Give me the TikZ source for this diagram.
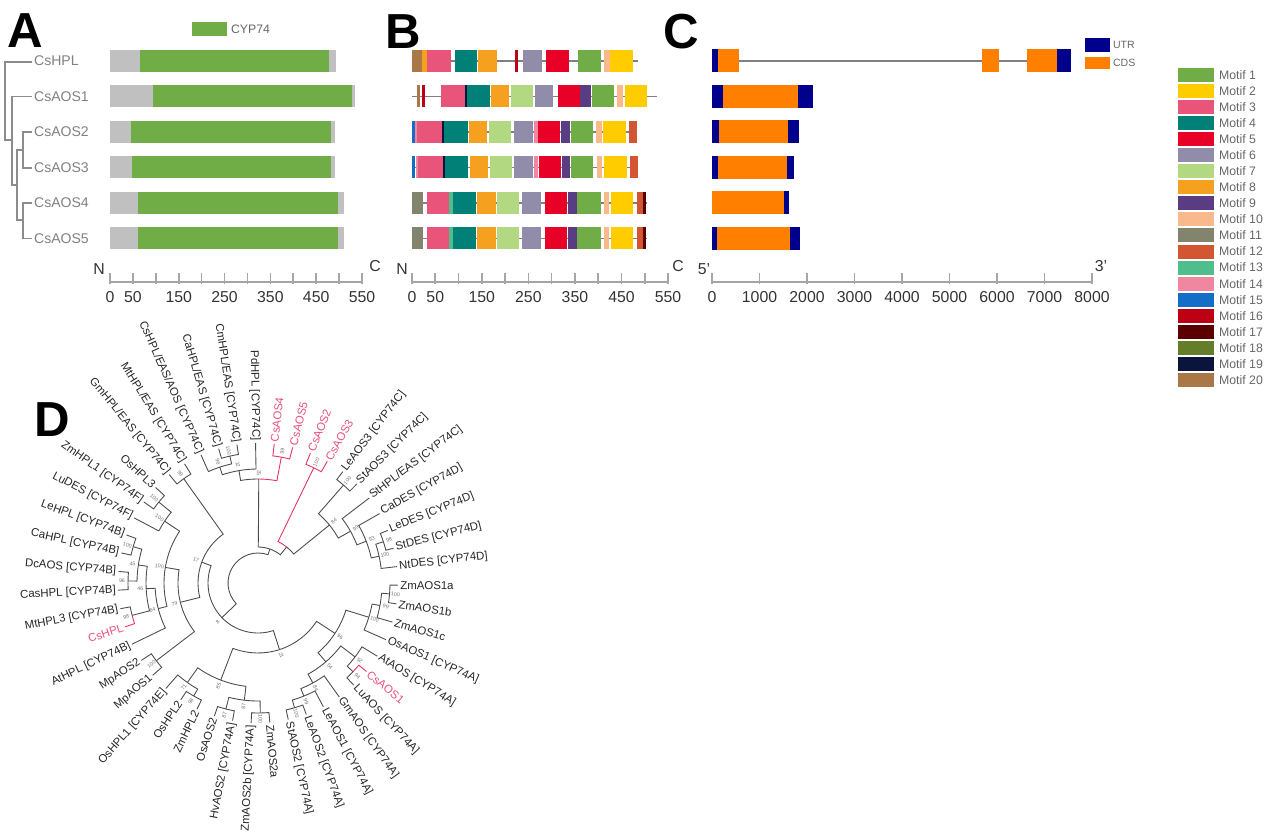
\documentclass[tikz,border=0pt]{standalone}
\usepackage{fontspec}
\setmainfont{Liberation Sans}
\definecolor{m1}{RGB}{112,173,71}
\definecolor{m2}{RGB}{255,204,0}
\definecolor{m3}{RGB}{232,84,122}
\definecolor{m4}{RGB}{0,128,118}
\definecolor{m5}{RGB}{232,0,38}
\definecolor{m6}{RGB}{145,140,170}
\definecolor{m7}{RGB}{178,216,130}
\definecolor{m8}{RGB}{246,160,32}
\definecolor{m9}{RGB}{90,60,130}
\definecolor{m10}{RGB}{250,185,140}
\definecolor{m11}{RGB}{130,132,110}
\definecolor{m12}{RGB}{210,86,50}
\definecolor{m13}{RGB}{80,190,140}
\definecolor{m14}{RGB}{240,135,160}
\definecolor{m15}{RGB}{20,110,200}
\definecolor{m16}{RGB}{190,0,20}
\definecolor{m17}{RGB}{90,0,0}
\definecolor{m18}{RGB}{100,125,40}
\definecolor{m19}{RGB}{10,20,60}
\definecolor{m20}{RGB}{170,120,70}
\definecolor{utr}{RGB}{0,0,140}
\definecolor{cds}{RGB}{255,128,0}
\definecolor{cyp}{RGB}{112,173,71}
\definecolor{pad}{RGB}{192,192,192}
\definecolor{csred}{RGB}{228,50,100}
\definecolor{axisgray}{RGB}{165,165,165}
\tikzset{
  panel/.style={font=\fontsize{28}{30}\selectfont\bfseries},
  seq/.style={font=\fontsize{8}{9}\selectfont, text=black!50, anchor=west, inner sep=1pt},
  num/.style={font=\fontsize{9}{10}\selectfont, text=black!80, inner sep=0pt},
  ax/.style={draw=axisgray, line width=0.9pt},
  bb/.style={draw=black!50, line width=0.6pt},
  br/.style={draw=black!70, line width=0.5pt},
  brp/.style={draw=csred, line width=0.5pt},
  leaf/.style={font=\fontsize{6.5}{7}\selectfont, inner sep=0pt},
  bs/.style={font=\fontsize{3}{3}\selectfont, text=black!55, inner sep=0pt},
  key/.style={font=\fontsize{7}{8}\selectfont, text=black!60, anchor=west, inner sep=1pt}
}
\begin{document}
\begin{tikzpicture}[x=0.02cm,y=-0.02cm]
\useasboundingbox (0,0) rectangle (1280,837);

% ---- panel A: domains
\node[panel] (pA) at (25,31) {A};
\fill[cyp] (192,22) rectangle (227,36);
\node[key] (kcyp) at (229,29) {CYP74};
\draw[black!45, line width=0.6pt] (32,62) -- (5,62) -- (5,140) -- (12,140);
\draw[black!45, line width=0.6pt] (32,96.5) -- (12,96.5) -- (12,185) -- (17,185);
\draw[black!45, line width=0.6pt] (23,150) -- (17,150) -- (17,220) -- (23,220);
\draw[black!45, line width=0.6pt] (32,132) -- (23,132) -- (23,168) -- (32,168);
\draw[black!45, line width=0.6pt] (32,203) -- (23,203) -- (23,238.5) -- (32,238.5);
\foreach \y/\t [count=\n] in {61/CsHPL, 96.5/CsAOS1, 132/CsAOS2, 167.5/CsAOS3, 203/CsAOS4, 238.5/CsAOS5}
  \node[seq] (sq\n) at (32,\y) {\t};
\foreach \y/\g/\e/\t in {61/140/329/336, 96.5/153/352/355, 132/131/331/335,
    167.5/132/331/335, 203/138/338/344, 238.5/138/338/344} {
  \fill[pad] (110,\y-11) rectangle (\t,\y+11);
  \fill[cyp] (\g,\y-11) rectangle (\e,\y+11);
}
\draw[ax] (110,282) -- (362,282);
\foreach \k in {0,...,11} \draw[ax] ({110+\k*252/11},284) -- ({110+\k*252/11},273);
\foreach \v in {0,50,150,250,350,450,550} \node[num] (na\v) at ({110+\v/550*252},297) {\v};
\node[num] (nN) at (99,269) {N};
\node[num] (nC) at (375,266) {C};

% ---- panel B: motifs
\node[panel] (pB) at (403,32) {B};
\foreach \y/\e in {61/638, 96.5/657, 132/637, 167.5/638, 203/647, 238.5/647}
  \draw[bb] (412,\y) -- (\e,\y);
\foreach \a/\b/\col in {412/422/m20, 422/427/m8, 427/451/m3, 455/477/m4, 478/497/m8, 515/518/m16,
    523/542/m6, 546/569/m5, 578/601/m1, 604/610/m10, 610/633/m2}
  \fill[\col] (\a,50) rectangle (\b,72);
\foreach \a/\b/\col in {417/420/m20, 422/425/m16, 441/465/m3, 465/467/m19, 467/490/m4, 491/509/m8,
    511/533/m7, 535/553/m6, 558/580/m5, 580/591/m9, 592/614/m1, 617/623/m10, 625/647/m2}
  \fill[\col] (\a,85.5) rectangle (\b,107.5);
\foreach \a/\b/\col in {412/415/m15, 415/417/m14, 417/442/m3, 442/444/m19, 444/468/m4, 469/487/m8,
    489/511/m7, 514/533/m6, 534/538/m14, 538/560/m5, 561/570/m9, 571/593/m1, 596/602/m10,
    603/626/m2, 629/637/m12}
  \fill[\col] (\a,121) rectangle (\b,143);
\foreach \a/\b/\col in {412/415/m15, 416/418/m14, 418/443/m3, 443/445/m19, 445/468/m4, 470/488/m8,
    490/512/m7, 514/533/m6, 534/538/m14, 539/561/m5, 562/570/m9, 571/593/m1, 597/602/m10,
    604/627/m2, 630/638/m12}
  \fill[\col] (\a,156.5) rectangle (\b,178.5);
\foreach \y in {203,238.5}
  \foreach \a/\b/\col in {412/423/m11, 427/449/m3, 449/453/m13, 453/476/m4, 477/496/m8, 497/519/m7,
      522/541/m6, 545/567/m5, 568/577/m9, 577/601/m1, 604/609/m10, 611/633/m2, 637/643/m12, 643/646/m17}
    \fill[\col] (\a,\y-11) rectangle (\b,\y+11);
\draw[ax] (412,282) -- (668,282);
\foreach \k in {0,...,11} \draw[ax] ({412+\k*256/11},284) -- ({412+\k*256/11},273);
\foreach \v in {0,50,150,250,350,450,550} \node[num] (nb\v) at ({412+\v/550*256},297) {\v};
\node[num] (bN) at (402,269) {N};
\node[num] (bC) at (678,266) {C};

% ---- panel C: gene structure
\node[panel] (pC) at (681,32) {C};
\draw[bb] (712,61) -- (1071,61);
\foreach \a/\b/\col in {712/718/utr, 718/739/cds, 982/999/cds, 1027/1057/cds, 1057/1071/utr}
  \fill[\col] (\a,49.5) rectangle (\b,72.5);
\foreach \a/\b/\col in {712/723/utr, 723/798/cds, 798/813/utr}
  \fill[\col] (\a,85) rectangle (\b,108);
\foreach \a/\b/\col in {712/719/utr, 719/788/cds, 788/799/utr}
  \fill[\col] (\a,120.5) rectangle (\b,143.5);
\foreach \a/\b/\col in {712/718/utr, 718/787/cds, 787/794/utr}
  \fill[\col] (\a,156) rectangle (\b,179);
\foreach \a/\b/\col in {712/784/cds, 784/789/utr}
  \fill[\col] (\a,191.5) rectangle (\b,214.5);
\foreach \a/\b/\col in {712/717/utr, 717/790/cds, 790/800/utr}
  \fill[\col] (\a,227) rectangle (\b,250);
\fill[utr] (1085,38) rectangle (1110,52);
\node[key, font=\fontsize{6}{7}\selectfont] (kutr) at (1111,45) {UTR};
\fill[cds] (1085,57) rectangle (1110,69);
\node[key, font=\fontsize{6}{7}\selectfont] (kcds) at (1111,63) {CDS};
\draw[ax] (712,282) -- (1092,282);
\foreach \k in {0,...,8} {
  \draw[ax] ({712+\k*47.5},284) -- ({712+\k*47.5},273);
  \node[num] (nc\k) at ({712+\k*47.5},297) {\the\numexpr\k*1000\relax};
}
\node[num] (c5) at (704,269) {5'};
\node[num] (c3) at (1101,266) {3'};

% ---- motif legend
\foreach \k in {1,...,20} {
  \fill[m\k] (1178,{75+(\k-1)*16.05-7}) rectangle (1214,{75+(\k-1)*16.05+7});
  \node[key] (mk\k) at (1217,{75+(\k-1)*16.05}) {Motif \k};
}

% ---- panel D: circular tree
\node[panel] (pD) at (52,420) {D};
\begin{scope}[shift={(258,583)}, y=0.02cm]
  % node radius / node angle / child angle / child radius
  \foreach \r/\na/\ca/\cr in {
      130/102.49/98.66/140, 130/102.49/106.32/140, 122/108.24/102.49/130, 122/108.24/113.98/140,
      114/99.62/91/140, 114/99.62/108.24/122, 104/89.57/99.62/114,
      132/18.23/14.4/140, 132/18.23/22.06/140, 124/12.49/6.74/140, 124/12.49/18.23/132,
      116/21.1/12.49/124, 116/21.1/29.72/140, 106/29.24/21.1/116, 106/29.24/37.38/140,
      130/48.87/45.04/140, 130/48.87/52.7/140, 92/39.06/29.24/106, 92/39.06/48.87/130,
      46/51.6/39.06/92, 36/70.6/51.6/46, 36/70.6/89.57/104,
      128/125.47/121.64/140, 128/125.47/129.3/140, 128/140.79/136.96/140, 128/140.79/144.62/140,
      112/146.5/140.79/128, 112/146.5/152.28/140,
      130/163.77/159.94/140, 130/163.77/167.6/140, 130/179.09/175.26/140, 130/179.09/182.92/140,
      121/171.43/163.77/130, 121/171.43/179.09/130, 130/194.41/190.58/140,
      112/182.92/171.43/121, 112/182.92/194.41/130, 103/194.41/182.92/112, 103/194.41/205.9/140,
      94/170.46/146.5/112, 94/170.46/194.41/103, 128/217.39/213.56/140, 128/217.39/221.22/140,
      80/193.93/170.46/94, 80/193.93/217.39/128, 60/159.7/125.47/128, 60/159.7/193.93/80,
      130/240.37/236.54/140, 130/240.37/244.2/140, 122/234.63/228.88/140, 122/234.63/240.37/130,
      130/255.69/251.86/140, 130/255.69/259.52/140, 130/271.01/267.18/140, 130/271.01/274.84/140,
      118/263.35/255.69/130, 118/263.35/271.01/130, 104/248.99/234.63/122, 104/248.99/263.35/118,
      130/286.33/282.5/140, 130/286.33/290.16/140, 122/292.08/286.33/130, 122/292.08/297.82/140,
      114/298.78/292.08/122, 114/298.78/305.48/140, 130/316.97/313.14/140,
      122/322.72/316.97/130, 122/322.72/328.46/140, 104/310.75/298.78/114, 104/310.75/322.72/122,
      132/355.27/351.44/140, 132/355.27/359.1/140, 124/349.53/343.78/140, 124/349.53/355.27/132,
      116/342.83/336.12/140, 116/342.83/349.53/124, 92/326.79/310.75/104, 92/326.79/342.83/116,
      70/287.89/248.99/104, 70/287.89/326.79/92, 50/223.8/159.7/60, 50/223.8/287.89/70,
      30/147.2/70.6/36, 30/147.2/223.8/50}
    \draw[br] (\ca:\cr) -- (\ca:\r) arc[start angle=\ca, end angle=\na, radius=\r*0.02cm];
  \foreach \r/\na/\ca/\cr in {
      128/79.51/75.68/140, 128/79.51/83.34/140, 128/64.19/60.36/140, 128/64.19/68.02/140,
      104/89.57/79.51/128, 46/51.6/64.19/128, 130/194.41/198.24/140, 130/316.97/320.8/140}
    \draw[brp] (\ca:\cr) -- (\ca:\r) arc[start angle=\ca, end angle=\na, radius=\r*0.02cm];
  % bootstrap values
  \foreach \r/\na/\v [count=\n] in {
      128/79.51/99, 128/64.19/100, 130/102.49/100, 122/108.24/96, 114/99.62/12, 104/89.57/52,
      132/18.23/98, 124/12.49/100, 116/21.1/93, 106/29.24/99, 130/48.87/100, 92/39.06/84,
      128/125.47/99, 128/140.79/100, 112/146.5/100, 130/163.77/100, 130/179.09/96, 121/171.43/45,
      130/194.41/98, 112/182.92/46, 103/194.41/64, 94/170.46/100, 128/217.39/100, 80/193.93/79,
      60/159.7/17, 130/240.37/98, 122/234.63/71, 130/255.69/87, 130/271.01/100, 118/263.35/87,
      104/248.99/85, 130/286.33/100, 122/292.08/99, 114/298.78/84, 130/316.97/94, 122/322.72/52,
      104/310.75/54, 132/355.27/100, 124/349.53/99, 116/342.83/100, 92/326.79/96, 70/287.89/21,
      50/223.8/8} {
    \pgfmathsetmacro\rr{\r+6}
    \pgfmathsetmacro\rot{(\na>90 && \na<270) ? \na-180 : \na}
    \node[bs, rotate=\rot] (bs\n) at (\na:\rr) {\v};
  }
  % leaf labels, right half
  \foreach \i/\t/\col in {-11/{NtDES [CYP74D]}/black, -10/{StDES [CYP74D]}/black,
      -9/{LeDES [CYP74D]}/black, -8/{CaDES [CYP74D]}/black, -7/{StHPL/EAS [CYP74C]}/black,
      -6/{StAOS3 [CYP74C]}/black, -5/{LeAOS3 [CYP74C]}/black, -4/CsAOS3/csred, -3/CsAOS2/csred,
      -2/CsAOS5/csred, -1/CsAOS4/csred, 24/ZmAOS2a/black, 25/{StAOS2 [CYP74A]}/black,
      26/{LeAOS2 [CYP74A]}/black, 27/{LeAOS1 [CYP74A]}/black, 28/{GmAOS [CYP74A]}/black,
      29/{LuAOS [CYP74A]}/black, 30/CsAOS1/csred, 31/{AtAOS [CYP74A]}/black,
      32/{OsAOS1 [CYP74A]}/black, 33/ZmAOS1c/black, 34/ZmAOS1b/black, 35/ZmAOS1a/black} {
    \pgfmathsetmacro\a{91+7.66*\i}
    \node[leaf, text=\col!85, anchor=west, rotate=\a] (lf\i) at (\a:142) {\t};
  }
  % leaf labels, left half
  \foreach \i/\t/\col in {0/{PdHPL [CYP74C]}/black, 1/{CmHPL/EAS [CYP74C]}/black,
      2/{CaHPL/EAS [CYP74C]}/black, 3/{CsHPL/EAS/AOS [CYP74C]}/black, 4/{MtHPL/EAS [CYP74C]}/black,
      5/{GmHPL/EAS [CYP74C]}/black, 6/OsHPL3/black, 7/{ZmHPL1 [CYP74F]}/black,
      8/{LuDES [CYP74F]}/black, 9/{LeHPL [CYP74B]}/black, 10/{CaHPL [CYP74B]}/black,
      11/{DcAOS [CYP74B]}/black, 12/{CasHPL [CYP74B]}/black, 13/{MtHPL3 [CYP74B]}/black,
      14/CsHPL/csred, 15/{AtHPL [CYP74B]}/black, 16/MpAOS2/black, 17/MpAOS1/black,
      18/{OsHPL1 [CYP74E]}/black, 19/OsHPL2/black, 20/ZmHPL2/black, 21/OsAOS2/black,
      22/{HvAOS2 [CYP74A]}/black, 23/{ZmAOS2b [CYP74A]}/black} {
    \pgfmathsetmacro\a{91+7.66*\i}
    \node[leaf, text=\col!85, anchor=east, rotate=\a-180] (lf\i) at (\a:142) {\t};
  }
\end{scope}
\end{tikzpicture}
\end{document}
